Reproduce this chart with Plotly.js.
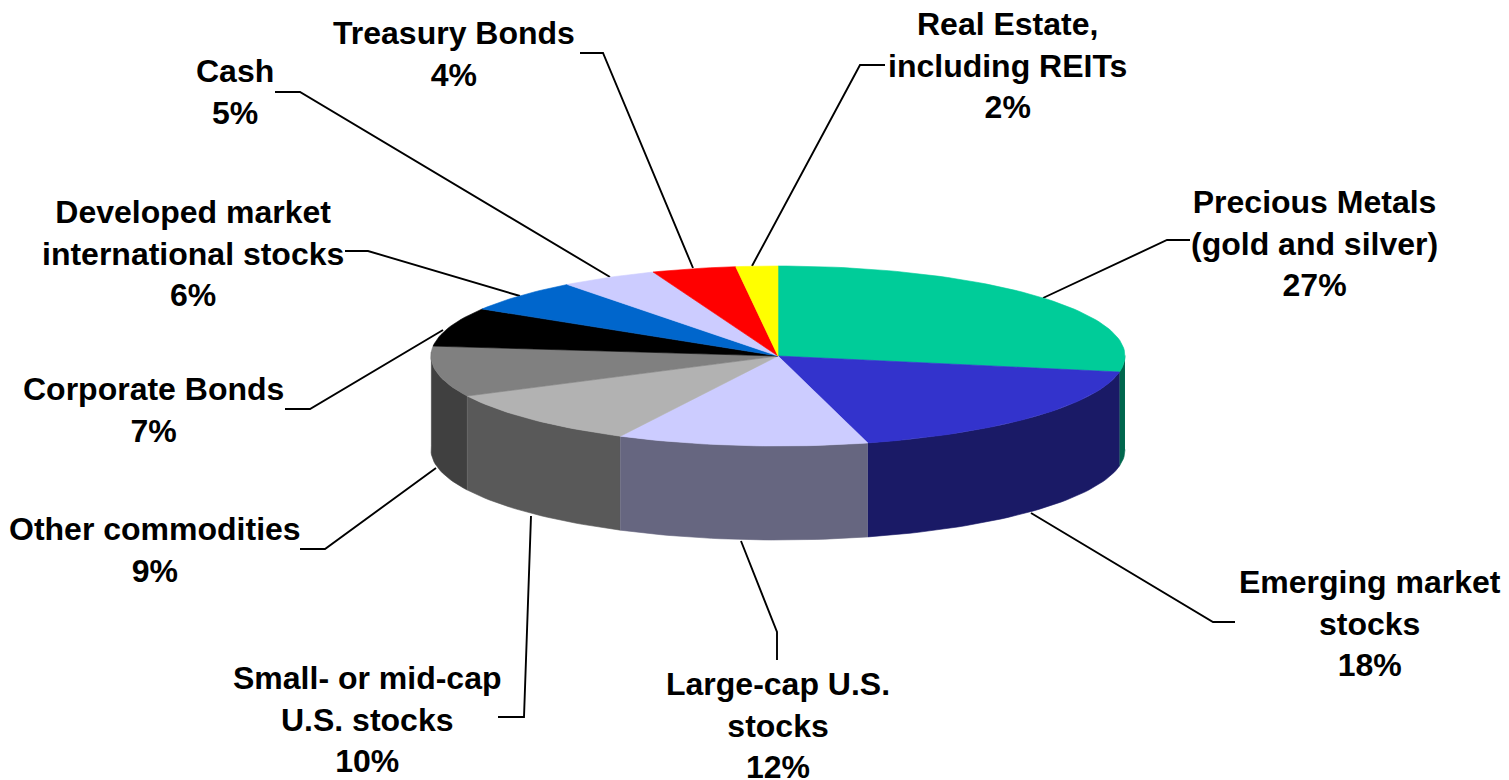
<!DOCTYPE html>
<html>
<head>
<meta charset="utf-8">
<script src="https://cdn.plot.ly/plotly-3.0.1.min.js"></script>
<style>html,body{margin:0;padding:0;background:#fff}#chart{width:1509px;height:780px}</style>
</head>
<body>
<div id="chart"></div>
<script>
// Data: clockwise from 12 o'clock
const categories = ["Precious Metals<br>(gold and silver)","Emerging market<br>stocks","Large-cap U.S.<br>stocks","Small- or mid-cap<br>U.S. stocks","Other commodities","Corporate Bonds","Developed market<br>international stocks","Cash","Treasury Bonds","Real Estate,<br>including REITs"];
const values = [27,18,12,10,9,7,6,5,4,2];
const topColors = ["#00CC99","#3333CC","#CCCCFF","#B2B2B2","#808080","#000000","#0066CC","#CCCCFF","#FF0000","#FFFF00"];
const sideColors = ["#00664D","#1A1A66","#666680","#595959","#404040","#000000","#003366","#666680","#800000","#808000"];

// Label centres and leader-line paths (page pixels)
const labelX = [1314,1370,778,367,155,153,193,235,454,1007];
const labelY = [243,623,725,719,550,410,253,92,54,65];
const leaders = [
  [[1190,240],[1167,240],[1043,298]],
  [[1235,622],[1213,622],[1031,513]],
  [[777,660],[777,632],[741,541]],
  [[498,717],[524,717],[531,516]],
  [[300,549],[325,549],[436,468]],
  [[285,409],[310,409],[443,330]],
  [[345,251],[368,251],[520,296]],
  [[275,92],[300,92],[610,277]],
  [[580,53],[603,53],[693,268]],
  [[885,65],[860,65],[752,266]]
];

// Projection of the disc
const cx = 778, cy = 356, rx = 347, ry = 90, depth = 94;
// small perspective correction of the projected angle: [angle, offset] in degrees
const warpTable = [[0,0],[97.2,3],[162,3],[205.2,1.8],[241.2,2.4],[273.6,2.7],[298.8,2.7],[320.4,2.2],[338.4,0.5],[352.8,0.2],[360,0]];
function warp(a){
  for(let i=1;i<warpTable.length;i++){
    const p=warpTable[i-1], q=warpTable[i];
    if(a<=q[0]) return a + p[1] + (q[1]-p[1])*(a-p[0])/(q[0]-p[0]);
  }
  return a;
}
function rim(a, dy){
  const t = warp(a)*Math.PI/180;
  return [cx + rx*Math.sin(t), cy - ry*Math.cos(t) + (dy||0)];
}
const total = values.reduce((s,v)=>s+v,0);
let cum = 0;
const spans = values.map(v=>{ const s=cum/total*360; cum+=v; return [s,cum/total*360]; });
function arc(a0,a1,dy){
  const pts=[]; const n=Math.max(2,Math.ceil((a1-a0)/1.5));
  for(let i=0;i<=n;i++) pts.push(rim(a0+(a1-a0)*i/n,dy));
  return pts;
}
function polyTrace(pts,color,name){
  return {type:'scatter',mode:'lines',x:pts.map(p=>p[0]),y:pts.map(p=>p[1]),fill:'toself',fillcolor:color,
    line:{color:color,width:0.6},hoverinfo:'text',text:name,showlegend:false};
}
const traces=[];
// leader lines
leaders.forEach(l=>traces.push({type:'scatter',mode:'lines',x:l.map(p=>p[0]),y:l.map(p=>p[1]),
  line:{color:'#000',width:1.9},hoverinfo:'skip',showlegend:false}));
// side walls (front half only)
const wallOrder=[0,9,8,7,6,5,4,1,3,2];
wallOrder.forEach(i=>{
  const a0=Math.max(spans[i][0],87), a1=Math.min(spans[i][1],270);
  if(a1<=a0) return;
  const top=arc(a0,a1,0), bot=arc(a0,a1,depth).reverse();
  traces.push(polyTrace(top.concat(bot),sideColors[i],categories[i]));
});
// top faces
spans.forEach((s,i)=>{
  const pts=[[cx,cy]].concat(arc(s[0],s[1],0)); pts.push([cx,cy]);
  traces.push(polyTrace(pts,topColors[i],categories[i]));
});
const annotations=categories.map((c,i)=>({
  x:labelX[i],y:labelY[i],xref:'x',yref:'y',text:'<b>'+c+'<br>'+values[i]+'%</b>',showarrow:false,
  xanchor:'center',yanchor:'middle',align:'center',
  font:{family:'"Liberation Sans",Arial,sans-serif',size:32,color:'#000'}
}));
const layout={width:1509,height:780,margin:{l:0,r:0,t:0,b:0,pad:0},paper_bgcolor:'#fff',plot_bgcolor:'#fff',
  showlegend:false,
  xaxis:{range:[0,1509],visible:false,fixedrange:true},
  yaxis:{range:[780,0],visible:false,fixedrange:true},
  annotations:annotations};
Plotly.newPlot('chart',traces,layout,{displayModeBar:false,staticPlot:false});
</script>
</body>
</html>
